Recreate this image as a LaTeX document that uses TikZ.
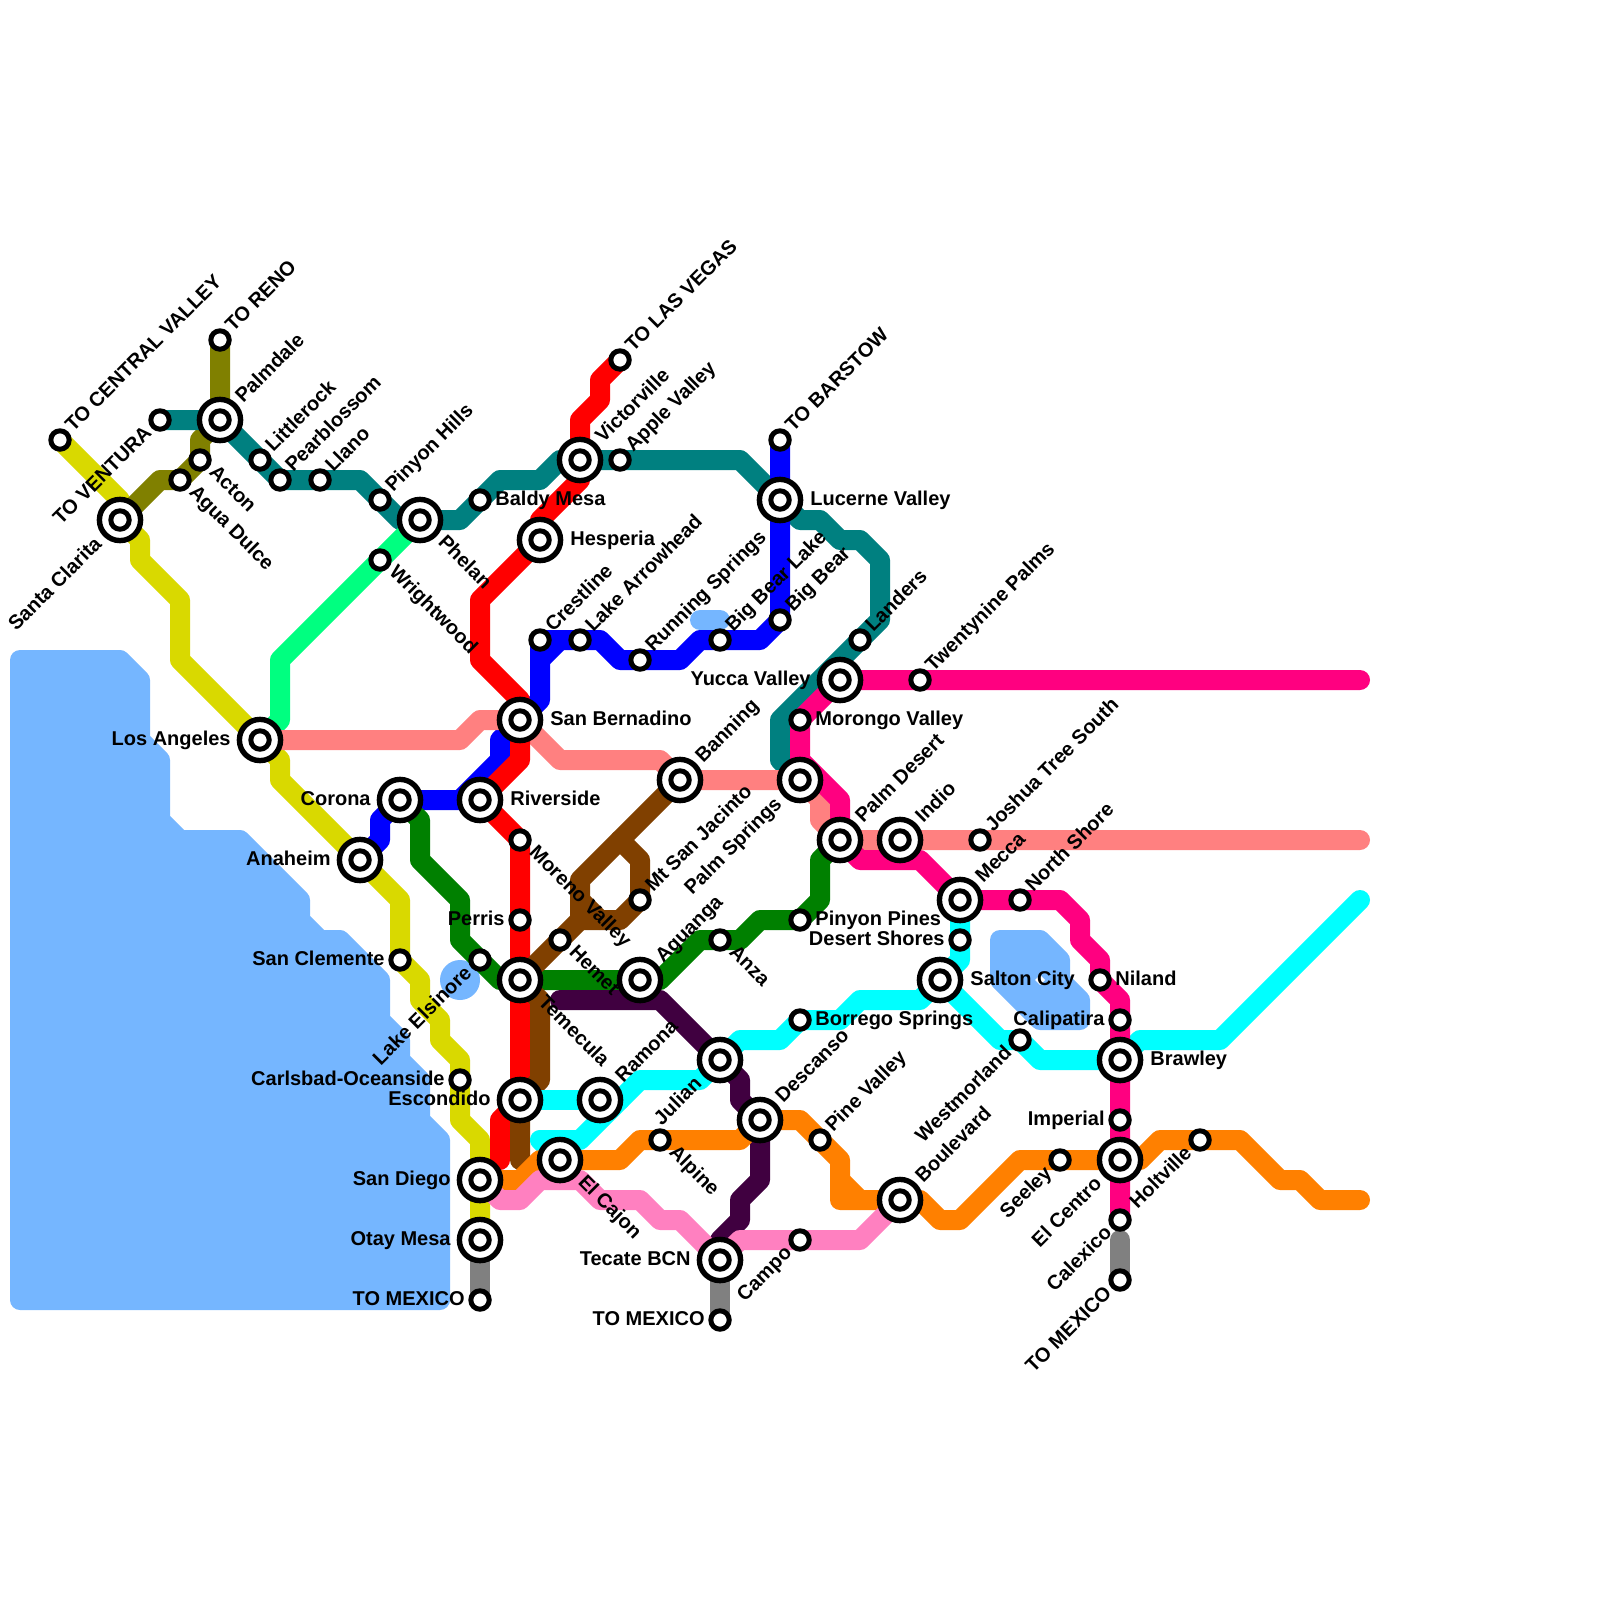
\documentclass[tikz,border=0pt]{standalone}
\usepackage{fontspec}
\setmainfont{Liberation Sans}
\definecolor{water}{HTML}{75B6FF}
\definecolor{cYellow}{HTML}{D9D900}
\definecolor{cOlive}{HTML}{808000}
\definecolor{cTeal}{HTML}{008080}
\definecolor{cSpring}{HTML}{00FF80}
\definecolor{cBlue}{HTML}{0000FF}
\definecolor{cGreen}{HTML}{008000}
\definecolor{cSalmon}{HTML}{FF8080}
\definecolor{cRed}{HTML}{FF0000}
\definecolor{cBrown}{HTML}{804000}
\definecolor{cPurple}{HTML}{400040}
\definecolor{cCyan}{HTML}{00FFFF}
\definecolor{cOrange}{HTML}{FF8000}
\definecolor{cPink}{HTML}{FF80C0}
\definecolor{cMagenta}{HTML}{FF0080}
\definecolor{cGray}{HTML}{808080}
\tikzset{
  line/.style={line width=10pt,line cap=round,line join=round},
  sea/.style={fill=water,draw=water,line width=10pt,line join=round},
  smallst/.style={circle,draw=black,fill=white,line width=2.5pt,minimum size=9.2pt,inner sep=0pt,outer sep=0pt},
  bigst/.style={circle,draw=black,fill=white,line width=2.7pt,minimum size=20.6pt,inner sep=0pt,outer sep=0pt,
    path picture={\draw[black,line width=2.5pt] (path picture bounding box.center) circle (4.6pt);}},
  txt/.style={font=\fontsize{10pt}{12pt}\selectfont\bfseries,inner sep=0pt,text=black},
  lr/.style={txt,anchor=base west},
  ll/.style={txt,anchor=base east},
  lne/.style={txt,anchor=base west,rotate=45},
  lse/.style={txt,anchor=base west,rotate=-45},
  lsw/.style={txt,anchor=base east,rotate=45},
}
\begin{document}
\begin{tikzpicture}[x=0.5pt,y=-0.5pt]
\useasboundingbox (0,0) rectangle (1600,1600);
% station positions
\foreach \n/\x/\y in {
 santaclarita/120/520,palmdale/220/420,losangeles/260/740,phelan/420/520,victorville/580/460,
 hesperia/540/540,lucerne/780/500,sanbern/520/720,yucca/840/680,banning/680/780,palmsprings/800/780,
 riverside/480/800,corona/400/800,anaheim/360/860,palmdesert/840/840,indio/900/840,mecca/960/900,
 temecula/520/980,aguanga/640/980,salton/940/980,escondido/520/1100,ramona/600/1100,julian/720/1060,
 descanso/760/1120,elcajon/560/1160,sandiego/480/1180,otay/480/1240,tecate/720/1260,boulevard/900/1200,
 brawley/1120/1060,elcentro/1120/1160,
 tocentral/60/440,toreno/220/340,toventura/160/420,acton/200/460,agua/180/480,littlerock/260/460,
 pearblossom/280/480,llano/320/480,pinyonhills/380/500,wrightwood/380/560,baldy/480/500,apple/620/460,
 tovegas/620/360,tobarstow/780/440,crestline/540/640,arrowhead/580/640,running/640/660,bigbearlake/720/640,
 bigbear/780/620,landers/860/640,twentynine/920/680,morongo/800/720,moreno/520/840,perris/520/920,
 hemet/560/940,jacinto/640/900,elsinore/480/960,clemente/400/960,carlsbad/460/1080,tomexa/480/1300,
 pinyonpines/800/920,anza/720/940,desertshores/960/940,joshua/980/840,northshore/1020/900,niland/1100/980,
 calipatira/1120/1020,westmorland/1020/1040,borrego/800/1020,pinevalley/820/1140,alpine/660/1140,
 imperial/1120/1120,seeley/1060/1160,holtville/1200/1140,calexico/1120/1220,tomexc/1120/1280,campo/800/1240,
 tomexb/720/1320}
 {\coordinate (\n) at (\x,\y);}
% water
\filldraw[sea] (20,660) -- (120,660) -- (140,680) -- (140,740) -- (160,760) -- (160,820) -- (180,840) -- (240,840)
  -- (300,900) -- (300,920) -- (320,940) -- (340,940) -- (380,980) -- (380,1020) -- (400,1040) -- (400,1060)
  -- (420,1080) -- (420,1120) -- (440,1140) -- (440,1300) -- (20,1300) -- cycle;
\filldraw[sea] (1000,940) -- (1040,940) -- (1060,960) -- (1060,980) -- (1080,1000) -- (1080,1020) -- (1040,1020) -- (1000,980) -- cycle;
\fill[white] (1040,975) -- (1045,980) -- (1040,985) -- (1035,980) -- cycle;
\draw[line,water] (700,620) -- (720,620);
\fill[water] (460,980) circle (10pt);
% lines
\draw[line,cYellow] (tocentral) -- (120,500) -- (santaclarita) -- (140,540) -- (140,560) -- (180,600) -- (180,660) -- (losangeles) -- (280,760) -- (280,780) -- (400,900) -- (clemente) -- (420,980) -- (420,1000) -- (440,1020) -- (440,1040) -- (460,1060) -- (460,1120) -- (480,1140) -- (otay);
\draw[line,cOlive] (toreno) -- (palmdale) -- (200,440) -- (acton) -- (agua) -- (160,480) -- (santaclarita);
\draw[line,cTeal] (toventura) -- (palmdale) -- (littlerock) -- (pearblossom) -- (360,480) -- (400,520) -- (460,520) -- (500,480) -- (540,480) -- (560,460) -- (740,460) -- (lucerne) -- (800,520) -- (820,520) -- (840,540) -- (860,540) -- (880,560) -- (880,620) -- (landers) -- (780,720) -- (780,760) -- (palmsprings);
\draw[line,cSpring] (phelan) -- (280,660) -- (280,720) -- (losangeles);
\draw[line,cBlue] (tobarstow) -- (bigbear) -- (760,640) -- (700,640) -- (680,660) -- (620,660) -- (600,640) -- (crestline) -- (540,700) -- (sanbern);
\draw[line,cBlue] (560,640) -- (540,660);
\draw[line,cBlue] (sanbern) -- (500,740) -- (500,760) -- (460,800) -- (corona) -- (380,820) -- (380,840) -- (anaheim);
\draw[line,cGreen] (corona) -- (420,820) -- (420,860) -- (460,900) -- (460,940) -- (500,980) -- (660,980) -- (700,940) -- (740,940) -- (760,920) -- (pinyonpines) -- (820,900) -- (820,860) -- (palmdesert);
\draw[line,cSalmon] (losangeles) -- (460,740) -- (480,720) -- (sanbern) -- (560,760) -- (660,760) -- (banning) -- (palmsprings) -- (820,800) -- (820,820) -- (palmdesert) -- (1360,840);
\draw[line,cRed] (tovegas) -- (600,380) -- (600,400) -- (580,420) -- (580,480) -- (540,520) -- (hesperia) -- (480,600) -- (480,660) -- (520,700) -- (sanbern) -- (520,760) -- (riverside) -- (moreno) -- (escondido) -- (500,1120) -- (500,1160);
\draw[line,cBrown] (banning) -- (580,880) -- (580,920) -- (temecula) -- (540,1000) -- (540,1080) -- (escondido) -- (520,1160);
\draw[line,cBrown] (620,840) -- (640,860) -- (jacinto) -- (620,920) -- (580,920);
\draw[line,cBrown] (600,920) -- (580,900);
\draw[line,cPurple] (560,1000) -- (660,1000) -- (julian) -- (740,1080) -- (740,1100) -- (descanso) -- (760,1180) -- (740,1200) -- (740,1220) -- (720,1240) -- (tecate);
\draw[line,cCyan] (escondido) -- (620,1100);
\draw[line,cCyan] (elcajon) -- (540,1140) -- (580,1140) -- (640,1080) -- (700,1080) -- (julian) -- (740,1040) -- (780,1040) -- (800,1020) -- (840,1020) -- (860,1000) -- (920,1000) -- (salton) -- (960,960) -- (mecca);
\draw[line,cCyan] (salton) -- (1000,1040) -- (1020,1040) -- (1040,1060) -- (brawley) -- (1140,1040) -- (1220,1040) -- (1360,900);
\draw[line,cOrange] (sandiego) -- (520,1180) -- (540,1160) -- (620,1160) -- (640,1140) -- (740,1140) -- (descanso) -- (800,1120) -- (840,1160) -- (840,1200) -- (boulevard) -- (920,1200) -- (940,1220) -- (960,1220) -- (1020,1160) -- (1140,1160) -- (1160,1140) -- (1240,1140) -- (1280,1180) -- (1300,1180) -- (1320,1200) -- (1360,1200);
\draw[line,cOrange] (840,1180) -- (860,1200);
\draw[line,cPink] (sandiego) -- (500,1200) -- (520,1200) -- (540,1180) -- (580,1180) -- (600,1200) -- (640,1200) -- (660,1220) -- (680,1220) -- (tecate) -- (740,1240) -- (860,1240) -- (boulevard);
\draw[line,cMagenta] (1360,680) -- (yucca) -- (morongo) -- (800,760) -- (840,800) -- (palmdesert) -- (860,860) -- (920,860) -- (mecca) -- (1060,900) -- (1080,920) -- (1080,940) -- (1100,960) -- (niland) -- (1120,1000) -- (calexico);
\draw[line,cGray] (otay) -- (tomexa);
\draw[line,cGray] (tecate) -- (tomexb);
\draw[line,cGray] (1120,1240) -- (tomexc);
% stations
\foreach \n in {santaclarita,palmdale,losangeles,phelan,victorville,hesperia,lucerne,sanbern,yucca,banning,palmsprings,riverside,corona,anaheim,palmdesert,indio,mecca,temecula,aguanga,salton,escondido,ramona,julian,descanso,elcajon,sandiego,otay,tecate,boulevard,brawley,elcentro}
 {\node[bigst] (st-\n) at (\n) {};}
\foreach \n in {tocentral,toreno,toventura,acton,agua,littlerock,pearblossom,llano,pinyonhills,wrightwood,baldy,apple,tovegas,tobarstow,crestline,arrowhead,running,bigbearlake,bigbear,landers,twentynine,morongo,moreno,perris,hemet,jacinto,elsinore,clemente,carlsbad,tomexa,pinyonpines,anza,desertshores,joshua,northshore,niland,calipatira,westmorland,borrego,pinevalley,alpine,imperial,seeley,holtville,calexico,tomexc,campo,tomexb}
 {\node[smallst] (st-\n) at (\n) {};}
% labels: right
\foreach \n/\t in {baldy/Baldy Mesa,morongo/Morongo Valley,pinyonpines/Pinyon Pines,borrego/Borrego Springs,niland/Niland}
 {\node[lr] (lb-\n) at ([shift={(15,5)}]\n) {\t};}
\foreach \n/\t in {hesperia/Hesperia,lucerne/Lucerne Valley,sanbern/San Bernadino,riverside/Riverside,salton/Salton City,brawley/Brawley}
 {\node[lr] (lb-\n) at ([shift={(30,5)}]\n) {\t};}
% labels: left
\foreach \n/\t in {perris/Perris,clemente/San Clemente,carlsbad/Carlsbad-Oceanside,tomexa/TO MEXICO,tomexb/TO MEXICO,desertshores/Desert Shores,calipatira/Calipatira,imperial/Imperial}
 {\node[ll] (lb-\n) at ([shift={(-15,5)}]\n) {\t};}
\foreach \n/\t in {losangeles/Los Angeles,corona/Corona,anaheim/Anaheim,yucca/Yucca Valley,escondido/Escondido,sandiego/San Diego,otay/Otay Mesa,tecate/Tecate BCN}
 {\node[ll] (lb-\n) at ([shift={(-29,5)}]\n) {\t};}
% labels: up-right
\foreach \n/\t in {tocentral/TO CENTRAL VALLEY,toreno/TO RENO,littlerock/Littlerock,pearblossom/Pearblossom,llano/Llano,pinyonhills/Pinyon Hills,apple/Apple Valley,tovegas/TO LAS VEGAS,tobarstow/TO BARSTOW,crestline/Crestline,arrowhead/Lake Arrowhead,running/Running Springs,bigbearlake/Big Bear Lake,bigbear/Big Bear,landers/Landers,twentynine/Twentynine Palms,joshua/Joshua Tree South,northshore/North Shore,jacinto/Mt San Jacinto,pinevalley/Pine Valley}
 {\node[lne] (lb-\n) at ([shift={(13,-7)}]\n) {\t};}
\foreach \n/\t in {palmdale/Palmdale,victorville/Victorville,banning/Banning,palmdesert/Palm Desert,indio/Indio,mecca/Mecca,aguanga/Aguanga,ramona/Ramona,descanso/Descanso,boulevard/Boulevard}
 {\node[lne] (lb-\n) at ([shift={(23,-16)}]\n) {\t};}
% labels: down-right
\foreach \n/\t in {acton/Acton,agua/Agua Dulce,wrightwood/Wrightwood,moreno/Moreno Valley,hemet/Hemet,anza/Anza,alpine/Alpine}
 {\node[lse] (lb-\n) at ([shift={(8,13)}]\n) {\t};}
\foreach \n/\t in {phelan/Phelan,temecula/Temecula,elcajon/El Cajon}
 {\node[lse] (lb-\n) at ([shift={(17,23)}]\n) {\t};}
% labels: down-left
\foreach \n/\t in {toventura/TO VENTURA,elsinore/Lake Elsinore,westmorland/Westmorland,campo/Campo,seeley/Seeley,holtville/Holtville,calexico/Calexico,tomexc/TO MEXICO}
 {\node[lsw] (lb-\n) at ([shift={(-7,14)}]\n) {\t};}
\foreach \n/\t in {santaclarita/Santa Clarita,palmsprings/Palm Springs,julian/Julian,elcentro/El Centro}
 {\node[lsw] (lb-\n) at ([shift={(-17,25)}]\n) {\t};}
\end{tikzpicture}
\end{document}
